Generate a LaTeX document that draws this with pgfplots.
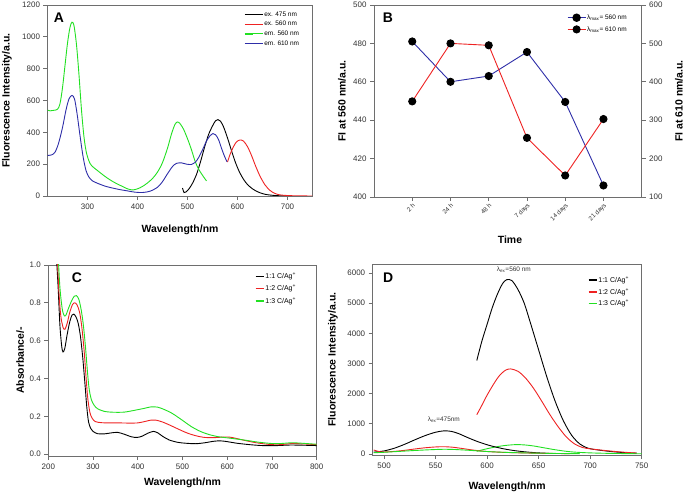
\documentclass[border=0pt]{standalone}
\usepackage{fontspec}
\setmainfont{Liberation Sans}
\usepackage{pgfplots}
\pgfplotsset{compat=1.18}
\definecolor{cblue}{HTML}{2E2EA8}
\definecolor{cred}{HTML}{EE2222}
\definecolor{cgreen}{HTML}{22E022}
\definecolor{axgray}{HTML}{6E6E6E}
\definecolor{tkgray}{HTML}{333333}
\tikzset{letter/.style={font=\fontsize{14}{16}\selectfont\bfseries, anchor=center}}
\pgfplotsset{
  myax/.style={
    scale only axis,
    axis line style={axgray, line width=0.8bp},
    tick style={axgray, line width=0.7bp},
    tick align=outside,
    major tick length=4bp,
    ticklabel style={font=\fontsize{8}{9}\selectfont, text=tkgray},
    /pgf/number format/assume math mode=true,
    /pgf/number format/1000 sep={},
    label style={font=\fontsize{10.5}{12}\selectfont\bfseries},
    legend style={draw=none, fill=none, font=\fontsize{6.5}{7.5}\selectfont,
      inner sep=0pt, outer sep=0pt, anchor=north west,
      nodes={inner sep=1bp}},
    legend cell align=left,
    every axis plot/.append style={line width=0.9bp},
  },
}
\begin{document}
\begin{tikzpicture}
\useasboundingbox (0,0) rectangle (685bp,495bp);
% ---------------- Panel A ----------------
\begin{axis}[myax, at={(47.5bp,299bp)}, anchor=south west,
  width=265bp, height=191bp,
  xmin=220, xmax=750, ymin=0, ymax=1200,
  xtick={300,400,...,700}, ytick={0,200,...,1200},
  xtick pos=bottom, ytick pos=left,
  xlabel={Wavelength/nm}, ylabel={Fluorescence Intensity/a.u.},
  xlabel style={at={(axis description cs:0.5,-0.178)}, anchor=center},
  ylabel style={at={(axis description cs:-0.153,0.5)}, anchor=center},
  legend style={at={(axis description cs:0.742,0.97)}, row sep=1.6bp},
  legend image code/.code={\draw[#1, line width=1.5bp] (0bp,0bp) -- (8bp,0bp); \path (0bp,0bp) -- (18bp,0bp);},
]
\addplot[black, smooth] coordinates {(490,50) (493,22) (497,25) (503,45) (510,80) (518,135) (526,215) (534,305) (542,385) (550,440) (556,472) (561,480) (566,470) (572,435) (580,365) (588,285) (596,210) (604,150) (612,105) (620,72) (630,45) (640,27) (650,15) (660,8) (675,3) (690,1) (700,0)};
\addlegendentry{ex. 475 nm}
\addplot[cred, smooth] coordinates {(580,213) (585,260) (592,310) (598,340) (605,352) (612,345) (620,310) (628,255) (636,190) (645,125) (655,70) (665,35) (675,16) (685,7) (700,3) (720,1) (750,0)};
\addlegendentry{ex. 560 nm}
\addplot[cgreen, smooth] coordinates {(220,540) (225,535) (232,538) (240,545) (245,580) (250,680) (255,820) (260,960) (265,1060) (269,1092) (273,1070) (278,950) (283,760) (288,540) (293,370) (298,270) (305,205) (312,180) (320,160) (330,135) (340,112) (350,92) (360,75) (370,60) (380,45) (390,38) (400,45) (410,60) (420,82) (430,110) (440,150) (450,210) (460,300) (468,390) (475,450) (480,465) (485,455) (492,420) (500,360) (508,290) (515,220) (522,170) (530,130) (538,95)};
\addlegendentry{em. 560 nm}
\addplot[cblue, smooth] coordinates {(220,255) (228,258) (235,275) (242,330) (250,430) (257,540) (263,610) (269,632) (274,610) (279,520) (285,380) (291,250) (297,160) (303,118) (310,95) (320,80) (335,62) (350,50) (365,40) (380,32) (395,24) (410,22) (425,30) (440,55) (450,90) (460,140) (470,185) (478,205) (488,208) (498,200) (508,198) (515,210) (522,240) (530,290) (538,345) (545,378) (551,392) (556,385) (562,355) (568,300) (574,250) (579,215)};
\addlegendentry{em. 610 nm}
\node[letter] at (axis description cs:0.043,0.932) {A};
\end{axis}
% ---------------- Panel B ----------------
\begin{axis}[myax, at={(374bp,298bp)}, anchor=south west,
  width=267.7bp, height=192bp,
  xmin=0, xmax=7, ymin=400, ymax=500,
  xtick={1,...,6}, xticklabels={2 h,24 h,48 h,7 days,14 days,21 days},
  xticklabel style={rotate=45, anchor=north east, font=\fontsize{6.3}{7}\selectfont, inner sep=1bp},
  ytick={400,420,...,500},
  xtick pos=bottom, ytick pos=left,
  xlabel={Time}, ylabel={FI at 560 nm/a.u.},
  xlabel style={at={(axis description cs:0.508,-0.224)}, anchor=center},
  ylabel style={at={(axis description cs:-0.12,0.5)}, anchor=center},
]
\addplot[cblue, mark=*, mark size=3.6bp, mark options={black, fill=black}] coordinates {(1,481) (2,460) (3,463) (4,475.5) (5,449.5) (6,406)};
\node[letter] at (axis description cs:0.052,0.932) {B};
\end{axis}
\begin{axis}[myax, at={(374bp,298bp)}, anchor=south west,
  width=267.7bp, height=192bp,
  xmin=0, xmax=7, ymin=100, ymax=600,
  axis x line=none, axis y line*=right, ytick pos=right,
  ytick={100,200,...,600},
  ylabel={FI at 610 nm/a.u.},
  ylabel style={at={(axis description cs:1.139,0.5)}, anchor=center},
  legend style={at={(axis description cs:0.721,0.955)}, row sep=3.5bp},
  legend image code/.code={\draw[mark repeat=2,mark phase=2,#1] plot coordinates {(0bp,0bp) (9bp,0bp) (18bp,0bp)};},
]
\addlegendimage{cblue, line width=1.2bp, mark=*, mark size=3.6bp, mark options={black, fill=black}}
\addlegendentry{λ\textsubscript{max}= 560 nm}
\addplot[cred, mark=*, mark size=3.6bp, mark options={black, fill=black}] coordinates {(1,349) (2,500) (3,495) (4,254) (5,156) (6,303)};
\addlegendentry{λ\textsubscript{max}= 610 nm}
\end{axis}
% ---------------- Panel C ----------------
\begin{axis}[myax, at={(48.3bp,39bp)}, anchor=south west,
  width=268.4bp, height=191bp,
  xmin=200, xmax=800, ymin=-0.01, ymax=1.0,
  xtick={200,300,...,800}, ytick={0,0.2,...,1.0},
  yticklabel style={/pgf/number format/.cd, fixed, fixed zerofill, precision=1},
  xtick pos=bottom, ytick pos=left,
  xlabel={Wavelength/nm}, ylabel={Absorbance/-},
  xlabel style={at={(axis description cs:0.5,-0.141)}, anchor=center},
  ylabel style={at={(axis description cs:-0.105,0.5)}, anchor=center},
  legend style={at={(axis description cs:0.77,0.965)}, row sep=3bp, font=\fontsize{7}{8}\selectfont},
  legend image code/.code={\draw[#1, line width=1.5bp] (0bp,0bp) -- (8bp,0bp);},
]
\addplot[black, smooth] coordinates {(218,1.05) (222,0.88) (226,0.68) (230,0.57) (233,0.54) (237,0.56) (242,0.63) (248,0.70) (253,0.735) (257,0.74) (262,0.725) (267,0.69) (272,0.62) (277,0.51) (282,0.37) (286,0.25) (290,0.17) (295,0.135) (300,0.12) (310,0.108) (325,0.107) (340,0.112) (355,0.115) (370,0.105) (385,0.092) (398,0.088) (410,0.095) (422,0.11) (435,0.12) (445,0.112) (455,0.095) (470,0.075) (490,0.062) (510,0.057) (530,0.055) (550,0.06) (570,0.068) (585,0.07) (600,0.066) (620,0.058) (650,0.05) (680,0.045) (710,0.045) (740,0.048) (770,0.047) (800,0.045)};
\addlegendentry{1:1 C/Ag\textsuperscript{+}}
\addplot[cred, smooth] coordinates {(220,1.05) (224,0.85) (228,0.73) (233,0.67) (237,0.66) (242,0.69) (248,0.75) (254,0.79) (259,0.80) (264,0.79) (270,0.75) (275,0.67) (280,0.55) (284,0.42) (288,0.3) (293,0.22) (298,0.19) (305,0.172) (320,0.166) (340,0.165) (360,0.165) (380,0.164) (400,0.165) (415,0.172) (430,0.18) (440,0.18) (455,0.17) (470,0.155) (490,0.133) (510,0.112) (530,0.097) (550,0.088) (570,0.087) (590,0.09) (605,0.09) (620,0.083) (640,0.072) (660,0.062) (680,0.055) (700,0.05) (720,0.05) (745,0.056) (770,0.054) (800,0.05)};
\addlegendentry{1:2 C/Ag\textsuperscript{+}}
\addplot[cgreen, smooth] coordinates {(222,1.05) (226,0.88) (231,0.77) (235,0.735) (239,0.733) (245,0.77) (252,0.81) (258,0.835) (263,0.838) (268,0.82) (273,0.77) (278,0.69) (283,0.57) (287,0.45) (291,0.35) (296,0.29) (302,0.26) (310,0.24) (325,0.226) (340,0.222) (355,0.221) (370,0.222) (385,0.228) (400,0.235) (415,0.242) (430,0.25) (445,0.248) (460,0.235) (475,0.218) (490,0.195) (505,0.17) (520,0.145) (540,0.12) (560,0.103) (580,0.092) (600,0.086) (620,0.08) (645,0.072) (670,0.063) (700,0.056) (720,0.056) (745,0.06) (770,0.057) (800,0.052)};
\addlegendentry{1:3 C/Ag\textsuperscript{+}}
\node[letter] at (axis description cs:0.107,0.932) {C};
\end{axis}
% ---------------- Panel D ----------------
\begin{axis}[myax, at={(372.7bp,40bp)}, anchor=south west,
  width=269bp, height=191bp,
  xmin=489, xmax=750, ymin=-35, ymax=6300,
  xtick={500,550,...,750}, ytick={0,1000,...,6000},
  xtick pos=bottom, ytick pos=left,
  xlabel={Wavelength/nm}, ylabel={Fluorescence Intensity/a.u.},
  xlabel style={at={(axis description cs:0.5,-0.168)}, anchor=center},
  ylabel style={at={(axis description cs:-0.148,0.5)}, anchor=center},
  legend style={at={(axis description cs:0.80,0.94)}, row sep=2.3bp, font=\fontsize{7}{8}\selectfont},
  legend image code/.code={\draw[#1, line width=1.5bp] (0bp,0bp) -- (8bp,0bp);},
]
\addplot[black, smooth] coordinates {(590,3100) (595,3750) (600,4300) (605,4850) (610,5300) (615,5650) (619,5780) (624,5750) (630,5450) (636,5000) (642,4350) (650,3450) (658,2550) (666,1750) (674,1100) (682,620) (690,330) (698,190) (706,140) (715,100) (725,65) (735,40) (745,25)};
\addlegendentry{1:1 C/Ag\textsuperscript{+}}
\addplot[cred, smooth] coordinates {(590,1300) (595,1620) (600,1950) (606,2300) (612,2600) (618,2780) (623,2820) (630,2740) (637,2530) (645,2180) (653,1750) (661,1300) (669,900) (677,560) (685,330) (693,210) (700,170) (710,130) (720,95) (730,65) (740,40) (745,30)};
\addlegendentry{1:2 C/Ag\textsuperscript{+}}
\addplot[cgreen, smooth] coordinates {(590,90) (597,150) (605,210) (613,260) (620,290) (628,310) (636,300) (645,265) (655,205) (665,145) (675,95) (685,60) (700,35) (720,18) (750,5)};
\addlegendentry{1:3 C/Ag\textsuperscript{+}}
\addplot[black, smooth] coordinates {(490,60) (500,100) (510,190) (520,320) (530,470) (540,610) (550,720) (558,765) (565,750) (572,680) (580,560) (590,420) (600,305) (610,215) (620,145) (630,95) (640,60) (650,35) (660,20)};
\addplot[cred, smooth] coordinates {(490,130) (495,80) (500,65) (510,85) (520,120) (530,165) (540,205) (550,232) (558,240) (566,225) (575,185) (585,135) (595,95) (605,70) (620,48) (640,30) (660,18) (680,10)};
\addplot[cgreen, smooth] coordinates {(490,40) (500,55) (515,85) (530,115) (545,140) (558,155) (570,145) (585,115) (600,80) (620,50) (645,28) (670,15) (690,8)};
\node[font=\fontsize{6.5}{7}\selectfont, text=tkgray] at (axis cs:626,6110) {λ\textsubscript{ex}=560 nm};
\node[font=\fontsize{6.5}{7}\selectfont, text=tkgray] at (axis cs:558,1130) {λ\textsubscript{ex}=475nm};
\node[letter] at (axis description cs:0.057,0.927) {D};
\end{axis}
\end{tikzpicture}
\end{document}
